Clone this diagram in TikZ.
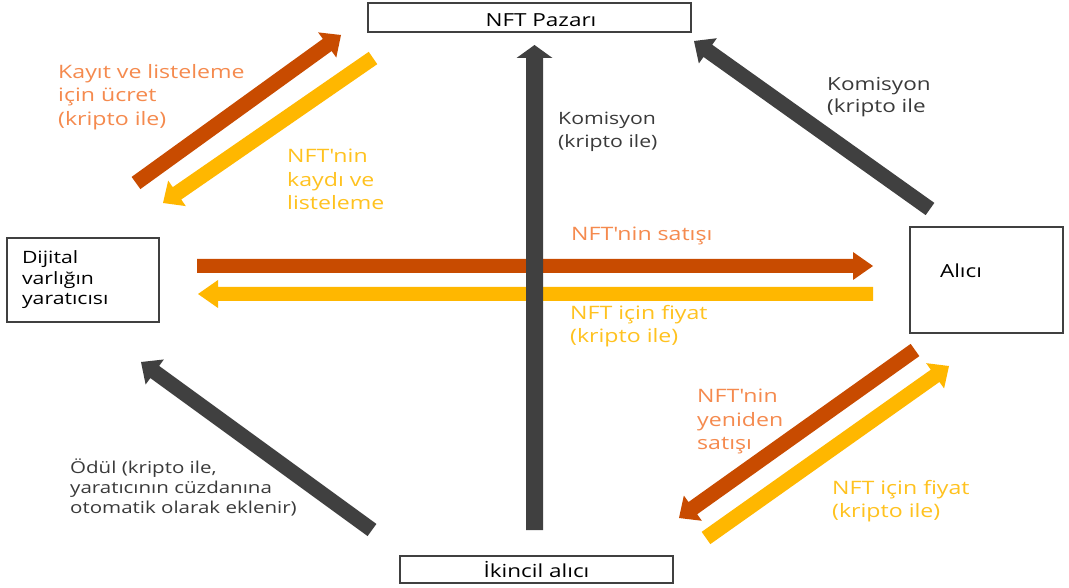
\documentclass[tikz,border=0pt]{standalone}
\usepackage{fontspec}
\setmainfont{Open Sans}[FakeStretch=1.25]
\usetikzlibrary{calc}
\definecolor{dk}{HTML}{404040}
\definecolor{orA}{HTML}{C84B00}
\definecolor{yeA}{HTML}{FFB700}
\definecolor{orT}{HTML}{F58A4E}
\definecolor{yeT}{HTML}{FFC21F}
\definecolor{dkT}{HTML}{3A3A3A}
\newcommand\blockarr[6]{% color, tail, tip, shaft half, head half, head length
  \coordinate (bh) at ($(#3)!#6!(#2)$);
  \fill[#1] ($(#2)!#4!90:(#3)$) -- ($(bh)!#4!90:(#3)$) -- ($(bh)!#5!90:(#3)$) -- (#3)
    -- ($(bh)!#5!-90:(#3)$) -- ($(bh)!#4!-90:(#3)$) -- ($(#2)!#4!-90:(#3)$) -- cycle;}
\newcommand\apo{\textquotesingle}
\begin{document}
\begin{tikzpicture}[x=1pt,y=-1pt,
  box/.style={draw=dk, line width=1.3pt, rectangle, fill=white, text=black,
    font=\fontsize{18}{24}\selectfont},
  lbl/.style={font=\fontsize{18.5}{23.5}\selectfont, align=left, inner sep=0pt, anchor=north west},
  lbldk/.style={lbl, font=\fontsize{17.5}{23}\selectfont},
  lblsm/.style={font=\fontsize{16.4}{20}\selectfont, align=left, inner sep=0pt, anchor=north west}]
\useasboundingbox[fill=white] (0,0) rectangle (1069,588);
% boxes
\node[box, minimum width=323pt, minimum height=29pt, inner sep=0pt, text height=19pt, text depth=0pt]
  (pazar) at (529.5,17.5) {\hspace*{23pt}NFT Pazarı};
\node[box, text width=122pt, inner xsep=15pt, minimum height=84pt, align=left,
  font=\fontsize{17}{20.5}\selectfont] (creator) at (83,280)
  {Dijital\\varlığın\\yaratıcısı};
\node[box, text width=93pt, inner xsep=30pt, minimum height=106pt, align=left,
  text height=13pt, text depth=17pt] (alici) at (986.5,280) {Alıcı};
\node[box, minimum width=273pt, minimum height=27pt, inner sep=0pt] (ikincil) at (536.5,569.5) {İkincil alıcı};
% arrow end points
\coordinate (v0) at (534.5,530); \coordinate (v1) at (534.5,45);
\coordinate (ho0) at (197,266); \coordinate (ho1) at (873,266);
\coordinate (hy0) at (873,294); \coordinate (hy1) at (198,294);
\coordinate (tlo0) at (136,183); \coordinate (tlo1) at (341,35);
\coordinate (tly0) at (373,58); \coordinate (tly1) at (163,203);
\coordinate (trd0) at (930,209); \coordinate (trd1) at (694,41);
\coordinate (bld0) at (372,530); \coordinate (bld1) at (141,362);
\coordinate (bro0) at (915,350); \coordinate (bro1) at (679,518);
\coordinate (bry0) at (706,538); \coordinate (bry1) at (949,366);
% arrows
\blockarr{orA}{ho0}{ho1}{7pt}{14pt}{20pt}
\blockarr{yeA}{hy0}{hy1}{7pt}{14pt}{20pt}
\blockarr{dk}{v0}{v1}{8.5pt}{18pt}{13pt}
\blockarr{orA}{tlo0}{tlo1}{7.5pt}{15.5pt}{17pt}
\blockarr{yeA}{tly0}{tly1}{7.5pt}{15.5pt}{17pt}
\blockarr{dk}{trd0}{trd1}{7.5pt}{15.5pt}{17pt}
\blockarr{dk}{bld0}{bld1}{7.5pt}{15.5pt}{17pt}
\blockarr{orA}{bro0}{bro1}{7.5pt}{15.5pt}{17pt}
\blockarr{yeA}{bry0}{bry1}{7.5pt}{15.5pt}{17pt}
% labels
\node[lbl, text=orT] (l1) at (58,64) {Kayıt ve listeleme\\için ücret\\(kripto ile)};
\node[lbl, text=yeT] (l2) at (287,149) {NFT\apo nin\\kaydı ve\\listeleme};
\node[lbldk, text=dkT, font=\fontsize{17}{23}\selectfont] (l3) at (558,112) {Komisyon\\(kripto ile)};
\node[lbldk, text=dkT, font=\fontsize{18}{22}\selectfont] (l4) at (827,77) {Komisyon\\(kripto ile};
\node[lbl, text=orT] (l5) at (571,227) {NFT\apo nin satışı};
\node[lbl, text=yeT] (l6) at (570,305) {NFT için fiyat\\(kripto ile)};
\node[lblsm, text=dkT] (l7) at (70,459) {Ödül (kripto ile,\\yaratıcının cüzdanına\\otomatik olarak eklenir)};
\node[lbl, text=orT] (l8) at (697,389) {NFT\apo nin\\yeniden\\satışı};
\node[lbl, text=yeT] (l9) at (832,480) {NFT için fiyat\\(kripto ile)};
\end{tikzpicture}
\end{document}
